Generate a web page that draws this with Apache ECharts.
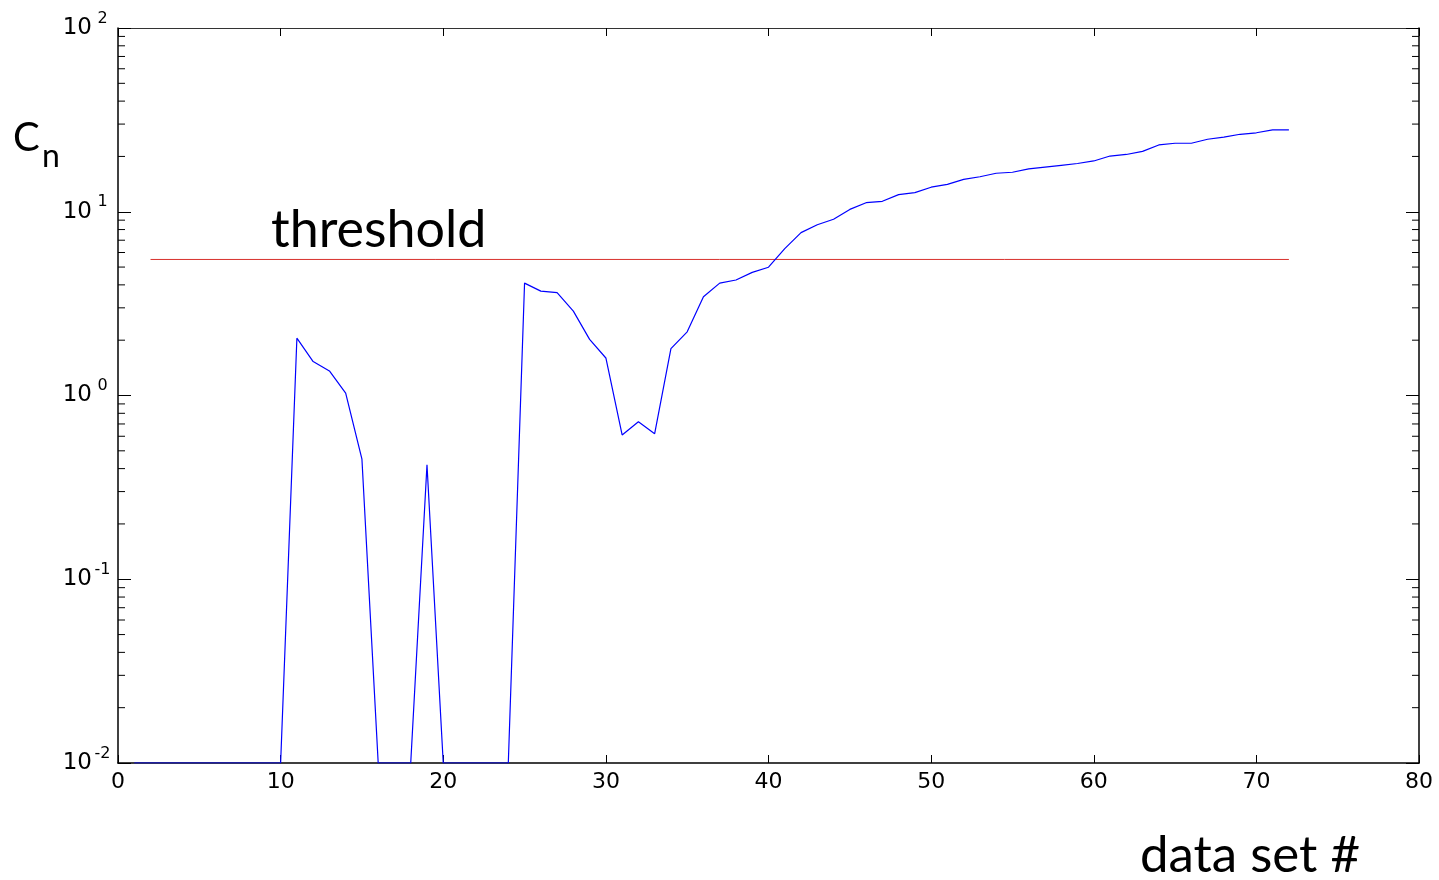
<!DOCTYPE html>
<html>
<head>
<meta charset="utf-8">
<script src="https://cdn.jsdelivr.net/npm/echarts@6/dist/echarts.min.js"></script>
<style>
html,body{margin:0;padding:0;background:#fff;}
#chart{width:1439px;height:880px;}
</style>
</head>
<body>
<div id="chart"></div>
<script>
// ---- data ----
var dataSetNo = [1,2,3,4,5,6,7,8,9,10,11,12,13,14,15,16,17,18,19,20,21,22,23,24,25,26,27,28,29,30,31,32,33,34,35,36,37,38,39,40,41,42,43,44,45,46,47,48,49,50,51,52,53,54,55,56,57,58,59,60,61,62,63,64,65,66,67,68,69,70,71,72];
var cnValues = [0.01,0.01,0.01,0.01,0.01,0.01,0.01,0.01,0.01,0.01,
  2.05,1.53,1.36,1.03,0.45,0.01,0.01,0.01,0.42,0.01,
  0.01,0.01,0.01,0.01,4.09,3.70,3.63,2.88,2.02,1.60,
  0.61,0.72,0.62,1.80,2.22,3.45,4.09,4.25,4.68,4.99,
  6.3,7.7,8.5,9.1,10.3,11.2,11.4,12.4,12.7,13.6,
  14.1,15.0,15.5,16.2,16.4,17.1,17.5,17.9,18.3,18.9,
  20.1,20.5,21.3,23.1,23.6,23.6,24.8,25.5,26.4,26.9,
  27.9,27.9];
var thresholdX = [2, 72];
var thresholdValue = 5.5;
var xTicks = [0,10,20,30,40,50,60,70,80];
var yDecades = [0.01, 0.1, 1, 10, 100];
var minorMultipliers = [2,3,4,5,6,7,8,9];

var xMin = 0, xMax = 80;
var seriesData = dataSetNo.map(function(x, i){ return [x, cnValues[i]]; });
var thresholdData = thresholdX.map(function(x){ return [x, thresholdValue]; });
var minorTicks = [];
yDecades.slice(0, -1).forEach(function(d){
  minorMultipliers.forEach(function(m){ minorTicks.push([xMin, d * m]); });
});

var numFont = 'DejaVu Sans';
var textFont = 'Lato';

var chart = echarts.init(document.getElementById('chart'), null, {renderer:'canvas'});
var option = {
  animation: false,
  backgroundColor: '#fff',
  grid: {left: 118, right: 20, top: 28, bottom: 117, containLabel: false},
  xAxis: [{
    type: 'value', min: xMin, max: xMax, interval: 10, position: 'bottom',
    axisLine: {show: true, onZero: false, lineStyle: {color: '#000', width: 1.5}},
    axisTick: {show: true, inside: true, length: 8, lineStyle: {color: '#000', width: 1}},
    axisLabel: {show: true, margin: 8, fontFamily: numFont, fontSize: 22, color: '#000'},
    splitLine: {show: false}
  }, {
    type: 'value', min: xMin, max: xMax, interval: 10, position: 'top',
    axisLine: {show: true, onZero: false, lineStyle: {color: '#333', width: 1}},
    axisTick: {show: true, inside: true, length: 8, lineStyle: {color: '#000', width: 1}},
    axisLabel: {show: false},
    splitLine: {show: false}
  }],
  yAxis: [{
    type: 'log', logBase: 10, min: 0.01, max: 100, interval: 1, position: 'left',
    axisLine: {show: true, onZero: false, lineStyle: {color: '#000', width: 1.5}},
    axisTick: {show: true, inside: true, length: 13, lineStyle: {color: '#000', width: 1}},
    axisLabel: {
      show: true, margin: 5,
      formatter: function(v){
        var e = Math.round(Math.log(v) / Math.LN10);
        return '{b|10}{e|' + e + '}';
      },
      rich: {
        b: {fontFamily: numFont, fontSize: 23, lineHeight: 23, color: '#000'},
        e: {fontFamily: numFont, fontSize: 16, lineHeight: 16, color: '#000', width: 21, align: 'left', padding: [0,0,19,0]}
      }
    },
    splitLine: {show: false}
  }, {
    type: 'log', logBase: 10, min: 0.01, max: 100, interval: 1, position: 'right',
    axisLine: {show: true, onZero: false, lineStyle: {color: '#000', width: 1.5}},
    axisTick: {show: true, inside: true, length: 13, lineStyle: {color: '#000', width: 1}},
    axisLabel: {show: false},
    splitLine: {show: false}
  }],
  series: [{
    type: 'line', xAxisIndex: 0, yAxisIndex: 0,
    data: seriesData, showSymbol: false, symbol: 'none', clip: true,
    lineStyle: {color: '#0000ff', width: 1.2}, z: 3
  }, {
    type: 'line', xAxisIndex: 0, yAxisIndex: 0,
    data: thresholdData, showSymbol: false, symbol: 'none',
    lineStyle: {color: '#d8302c', width: 1}, z: 2
  }, {
    type: 'custom', xAxisIndex: 0, yAxisIndex: 0, silent: true, clip: false,
    data: minorTicks,
    encode: {x: 0, y: 1},
    renderItem: function(params, api){
      var v = api.value(1);
      var pL = api.coord([xMin, v]);
      var pR = api.coord([xMax, v]);
      return {type: 'group', children: [
        {type: 'line', shape: {x1: pL[0], y1: pL[1], x2: pL[0] + 7, y2: pL[1]}, style: {stroke: '#000', lineWidth: 1}},
        {type: 'line', shape: {x1: pR[0] - 7, y1: pR[1], x2: pR[0], y2: pR[1]}, style: {stroke: '#000', lineWidth: 1}}
      ]};
    }
  }],
  graphic: [{
    type: 'text', left: 271, top: 204, silent: true,
    style: {text: 'threshold', fontFamily: textFont, fontSize: 52, fill: '#000'}
  }, {
    type: 'text', left: 1140, top: 830, silent: true,
    style: {text: 'data set #', fontFamily: textFont, fontSize: 51, fill: '#000'}
  }, {
    type: 'text', silent: true, x: 13, y: 138,
    style: {text: 'C', fontFamily: textFont, fontSize: 40, fill: '#000', verticalAlign: 'middle', align: 'left'}
  }, {
    type: 'text', silent: true, x: 42, y: 157,
    style: {text: 'n', fontFamily: textFont, fontSize: 32, fill: '#000', verticalAlign: 'middle', align: 'left'}
  }]
};
chart.setOption(option);
</script>
</body>
</html>
